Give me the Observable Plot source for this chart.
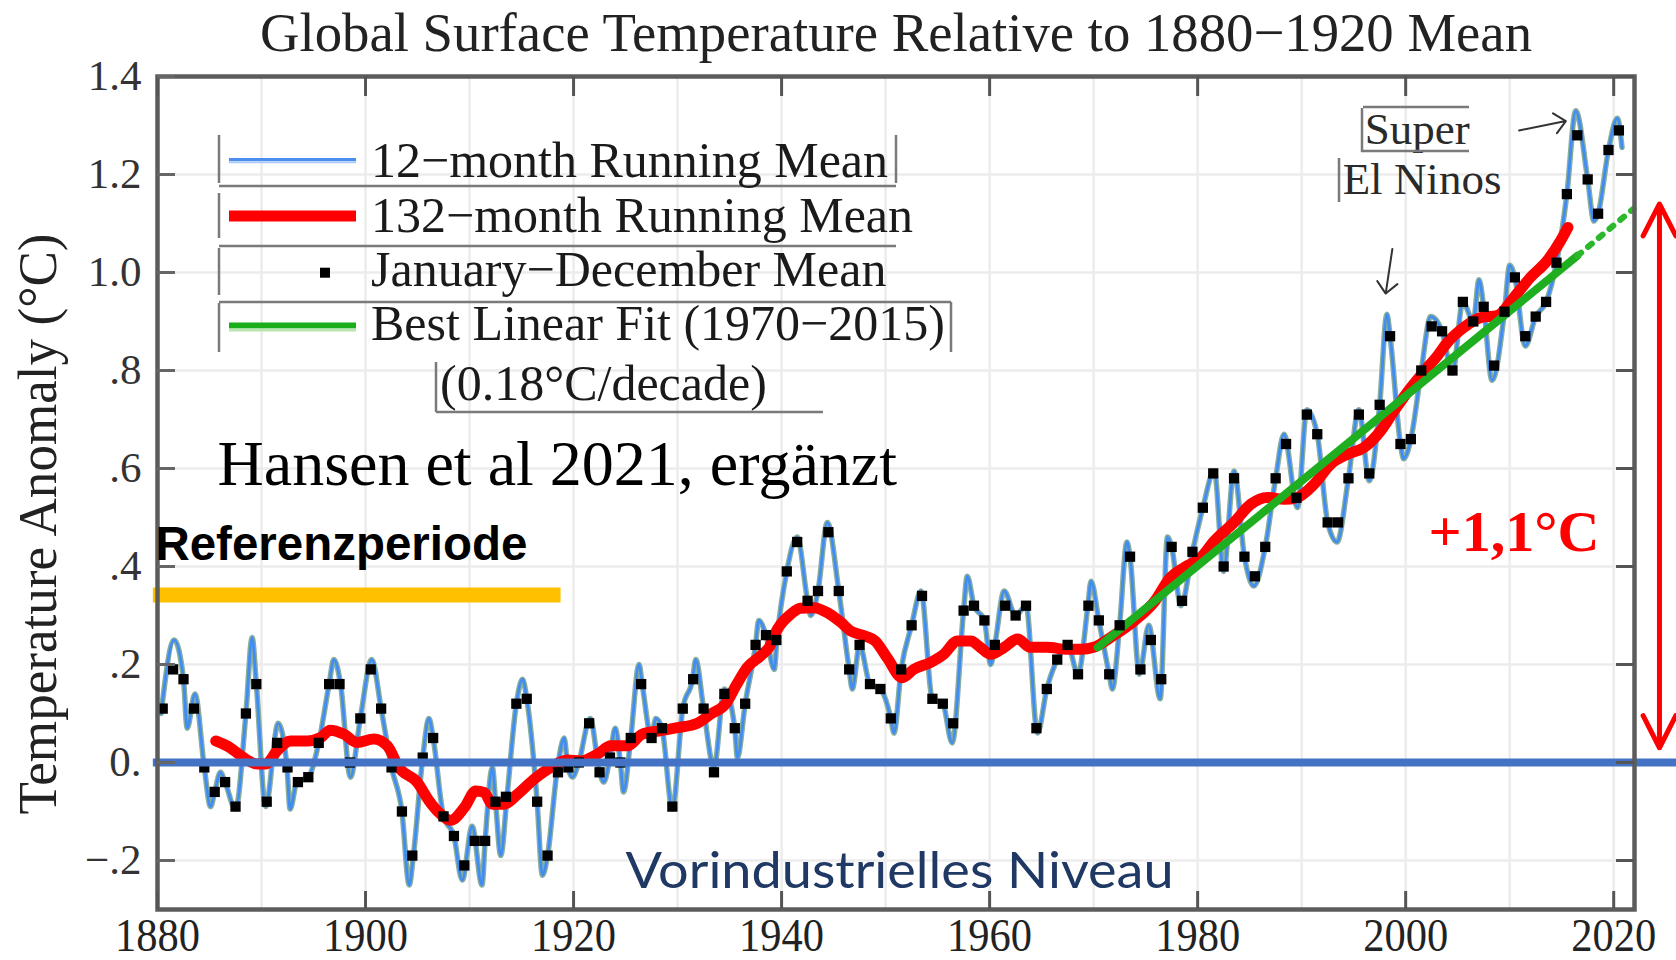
<!DOCTYPE html>
<html>
<head>
<meta charset="utf-8">
<script src="https://cdn.jsdelivr.net/npm/d3@7"></script>
<script src="https://cdn.jsdelivr.net/npm/@observablehq/plot@0.6"></script>
<style>
html, body { margin: 0; padding: 0; background: #fff; }
#chart { width: 1676px; height: 960px; overflow: hidden; }
</style>
</head>
<body>
<div id="chart"></div>
<script>
// ---------------- DATA ----------------
const firstYear = 1880;
// January–December mean, °C relative to 1880–1920 mean (1880 … 2020)
const annualValues = [
  0.11, 0.19, 0.17, 0.11, -0.01, -0.06, -0.04, -0.09, 0.10, 0.16,
  -0.08, 0.04, -0.01, -0.04, -0.03, 0.04, 0.16, 0.16, 0.00, 0.09,
  0.19, 0.11, -0.01, -0.10, -0.19, 0.01, 0.05, -0.11, -0.15, -0.21,
  -0.16, -0.16, -0.08, -0.07, 0.12, 0.13, -0.08, -0.19, -0.02, -0.01,
  0.00, 0.08, -0.02, 0.01, 0.00, 0.05, 0.16, 0.05, 0.07, -0.09,
  0.11, 0.17, 0.11, -0.02, 0.14, 0.07, 0.12, 0.24, 0.26, 0.25,
  0.39, 0.45, 0.33, 0.35, 0.47, 0.35, 0.19, 0.24, 0.16, 0.15,
  0.09, 0.19, 0.28, 0.34, 0.13, 0.12, 0.08, 0.31, 0.32, 0.29,
  0.24, 0.32, 0.30, 0.32, 0.07, 0.15, 0.21, 0.24, 0.18, 0.32,
  0.29, 0.18, 0.28, 0.42, 0.19, 0.25, 0.17, 0.44, 0.33, 0.43,
  0.52, 0.59, 0.40, 0.58, 0.42, 0.38, 0.44, 0.58, 0.65, 0.54,
  0.71, 0.67, 0.49, 0.49, 0.58, 0.71, 0.59, 0.73, 0.87, 0.65,
  0.66, 0.80, 0.89, 0.88, 0.80, 0.94, 0.90, 0.93, 0.81, 0.92,
  0.99, 0.87, 0.91, 0.94, 1.02, 1.16, 1.28, 1.19, 1.12, 1.25,
  1.29
];

// 12-month running mean: vertices (time, value)
const blueT = [1880.35,1881.6,1882.5,1882.85,1883.6,1884.5,1885.1,1885.5,1886.05,1886.5,1887.5,1888.5,1889.1,1889.5,1890.4,1891.6,1892.45,1892.75,1893.4,1894.5,1895.5,1896.5,1896.95,1897.6,1898.55,1899.5,1900.6,1901.5,1902.5,1903.5,1904.2,1904.6,1905.5,1906.1,1906.5,1907.5,1908.5,1909.3,1910.25,1911.2,1911.5,1912.2,1912.5,1913.0,1913.6,1914.5,1915.1,1915.5,1916.5,1917.0,1917.5,1918.4,1919.1,1919.45,1919.9,1920.5,1921.6,1922.5,1922.9,1923.5,1924.0,1924.5,1924.8,1925.5,1926.3,1926.6,1927.5,1927.9,1928.5,1929.5,1930.5,1931.45,1931.75,1932.5,1933.5,1934.5,1935.5,1935.75,1936.5,1937.5,1937.8,1938.5,1939.3,1939.55,1940.5,1941.5,1942.5,1942.8,1943.5,1944.4,1945.5,1946.5,1946.8,1947.5,1948.5,1949.5,1950.5,1950.8,1951.5,1952.5,1953.4,1954.5,1955.5,1956.4,1957.5,1957.85,1958.5,1959.5,1960.1,1960.5,1961.4,1962.5,1963.5,1964.6,1965.5,1966.5,1967.5,1968.5,1969.45,1969.75,1970.5,1971.5,1971.8,1972.5,1973.2,1973.5,1974.4,1975.3,1976.4,1977.1,1977.5,1978.4,1979.5,1980.5,1981.6,1982.5,1983.5,1984.5,1985.4,1986.5,1987.5,1988.3,1989.6,1990.5,1991.5,1992.5,1993.4,1994.5,1995.5,1996.5,1997.5,1998.2,1998.5,1999.5,1999.8,2000.5,2001.5,2002.4,2003.5,2004.5,2005.5,2006.5,2007.05,2007.5,2008.3,2009.5,2010.0,2010.5,2011.5,2012.5,2013.5,2014.5,2015.5,2016.35,2017.5,2018.1,2018.5,2019.5,2020.35,2020.8];
const blueV = [0.10,0.25,0.17,0.07,0.14,-0.01,-0.09,-0.06,-0.02,-0.04,-0.095,0.10,0.255,0.16,-0.09,0.08,-0.01,-0.095,-0.04,-0.03,0.04,0.16,0.21,0.16,-0.03,0.09,0.21,0.11,-0.01,-0.10,-0.25,-0.19,0.01,0.09,0.05,-0.11,-0.15,-0.24,-0.13,-0.25,-0.16,-0.01,-0.08,-0.19,-0.07,0.12,0.17,0.13,-0.08,-0.23,-0.19,-0.02,0.05,-0.01,-0.03,0.00,0.09,-0.02,-0.04,0.01,0.07,0.00,-0.06,0.05,0.20,0.16,0.05,0.09,0.07,-0.095,0.11,0.17,0.21,0.11,-0.01,0.15,0.07,0.01,0.12,0.24,0.29,0.26,0.19,0.25,0.39,0.46,0.33,0.30,0.35,0.49,0.35,0.19,0.15,0.24,0.16,0.15,0.09,0.06,0.19,0.28,0.35,0.13,0.12,0.04,0.31,0.38,0.32,0.29,0.20,0.24,0.35,0.30,0.32,0.06,0.15,0.21,0.24,0.18,0.32,0.37,0.29,0.18,0.15,0.28,0.45,0.42,0.18,0.28,0.13,0.46,0.44,0.32,0.43,0.52,0.595,0.39,0.595,0.42,0.36,0.44,0.58,0.67,0.52,0.72,0.67,0.49,0.45,0.58,0.72,0.575,0.73,0.915,0.87,0.65,0.62,0.66,0.80,0.91,0.88,0.795,0.94,0.90,0.985,0.93,0.78,0.92,1.015,0.99,0.85,0.91,0.94,1.02,1.16,1.33,1.19,1.105,1.12,1.25,1.315,1.255];

// 132-month running mean
const redT = [1885.6,1887.0,1888.0,1889.6,1890.4,1891.5,1892.8,1894.4,1895.7,1896.6,1897.9,1899.2,1900.8,1902.1,1903.2,1905.0,1906.1,1907.2,1908.2,1909.5,1910.6,1911.4,1912.2,1913.3,1914.6,1916.2,1917.8,1919.4,1920.7,1922.3,1923.6,1925.2,1926.6,1928.4,1930.0,1931.9,1933.2,1934.6,1935.7,1936.7,1938.0,1938.8,1939.6,1940.9,1941.8,1943.1,1944.4,1945.7,1946.6,1947.9,1949.0,1950.2,1951.6,1952.7,1954.3,1955.6,1956.9,1958.2,1959.1,1960.1,1961.4,1962.7,1963.9,1965.5,1967.5,1968.8,1970.0,1971.9,1973.9,1975.8,1977.4,1978.7,1980.3,1981.6,1983.5,1985.1,1986.7,1988.3,1989.6,1991.2,1992.8,1994.4,1996.0,1997.6,1998.9,2000.5,2001.8,2003.05,2004.0,2005.6,2007.2,2008.8,2010.4,2012.0,2013.6,2014.9,2015.6];
const redV = [0.044,0.03,0.014,-0.003,-0.003,0.024,0.044,0.044,0.051,0.066,0.058,0.041,0.048,0.034,-0.01,-0.041,-0.078,-0.105,-0.118,-0.092,-0.058,-0.061,-0.085,-0.085,-0.065,-0.034,-0.01,0.005,0.003,0.017,0.034,0.034,0.058,0.065,0.071,0.08,0.099,0.119,0.16,0.194,0.218,0.235,0.272,0.303,0.315,0.316,0.306,0.286,0.269,0.259,0.248,0.212,0.173,0.19,0.204,0.221,0.248,0.248,0.235,0.221,0.235,0.252,0.235,0.235,0.231,0.231,0.235,0.259,0.289,0.327,0.378,0.398,0.418,0.452,0.49,0.527,0.541,0.537,0.541,0.568,0.609,0.629,0.643,0.677,0.718,0.765,0.799,0.83,0.857,0.888,0.908,0.912,0.949,0.99,1.024,1.065,1.092];

// Best linear fit 1970–2015 (0.18 °C/decade) and its dotted extension
const fitT = [1970.4, 2016.5];
const fitV = [0.235, 1.034];
const fitExtT = [2016.5, 2021.9];
const fitExtV = [1.034, 1.13];

// Additions: reference period bar, zero level, warming span
const refBarX = [1879.6, 1918.8];
const refBarY = 0.342;
const zeroLineX = [1879.6, 2026.1];
const warmingSpanX = 2024.4;
const warmingSpanY = [0.03, 1.14];

// Axes
const xDomain = [1880, 2022];
const yDomain = [-0.3, 1.4];
const xLabelTicks = [1880, 1900, 1920, 1940, 1960, 1980, 2000, 2020];
const xGridTicks = [1890, 1900, 1910, 1920, 1930, 1940, 1950, 1960, 1970, 1980, 1990, 2000, 2010, 2020];
const yTicks = [-0.2, 0, 0.2, 0.4, 0.6, 0.8, 1.0, 1.2, 1.4];
const yTickLabels = ["\u2212.2", "0.", ".2", ".4", ".6", ".8", "1.0", "1.2", "1.4"];

// Texts
const titleText = "Global Surface Temperature Relative to 1880\u22121920 Mean";
const yLabelText = "Temperature Anomaly (\u00B0C)";
const legendLabels = ["12\u2212month Running Mean", "132\u2212month Running Mean", "January\u2212December Mean", "Best Linear Fit (1970\u22122015)"];
const legendNote = "(0.18\u00B0C/decade)";

// Annotations (anchored in data coordinates)
const annoHansen = {text: "Hansen et al 2021, ergänzt", x: 1885.77, y: 0.567};
const annoRef = {text: "Referenzperiode", x: 1879.8, y: 0.413};
const annoNiveau = {text: "Vorindustrielles Niveau", x: 1925.0, y: -0.256};
const annoWarming = {text: "+1,1\u00B0C", x: 2002.2, y: 0.432};
const annoSuper = {text: "Super", x: 1996.06, y: 1.263};
const annoElNinos = {text: "El Ninos", x: 1993.94, y: 1.16};
const elNinoArrows = [
  {x1: 1998.72, y1: 1.048, x2: 1998.08, y2: 0.957},
  {x1: 2010.9, y1: 1.29, x2: 2015.4, y2: 1.309}
];

// ---------------- LAYOUT ----------------
const W = 1676, H = 960;
const mL = 157, mR = 42, mT = 76, mB = 51;
const frameW = W - mL - mR, frameH = H - mT - mB;
const tickLen = 18;
const serif = "'Liberation Serif', 'Times New Roman', Times, serif";
const sans = "'Liberation Sans', Arial, sans-serif";

const annual = annualValues.map((v, i) => ({t: firstYear + i + 0.5, v}));
const blue = blueT.map((t, i) => ({t, v: blueV[i]}));
const red = redT.map((t, i) => ({t, v: redV[i]}));
const fit = fitT.map((t, i) => ({t, v: fitV[i]}));
const fitExt = fitExtT.map((t, i) => ({t, v: fitExtV[i]}));
const mid = (warmingSpanY[0] + warmingSpanY[1]) / 2;
const spanArrows = [
  {x1: warmingSpanX, y1: mid, x2: warmingSpanX, y2: warmingSpanY[1]},
  {x1: warmingSpanX, y1: mid, x2: warmingSpanX, y2: warmingSpanY[0]}
];
// Plot's headLength is relative to the stroke width (÷1.5)
const headPx = (px, sw) => px * 1.5 / sw;

const plot = Plot.plot({
  width: W, height: H,
  marginLeft: mL, marginRight: mR, marginTop: mT, marginBottom: mB,
  style: {fontFamily: serif, background: "#fff"},
  x: {domain: xDomain},
  y: {domain: yDomain},
  marks: [
    Plot.gridX(xGridTicks, {stroke: "#ececec", strokeOpacity: 1, strokeWidth: 2.5}),
    Plot.gridY(yTicks, {stroke: "#ececec", strokeOpacity: 1, strokeWidth: 2.5}),
    // reference period bar
    Plot.ruleY([refBarY], {x1: refBarX[0], x2: refBarX[1], stroke: "#FFC000", strokeWidth: 15}),
    // 12-month running mean
    Plot.line(blue, {x: "t", y: "v", stroke: "#8aae9c", strokeWidth: 5.5, curve: "monotone-x", strokeLinejoin: "round"}),
    Plot.line(blue, {x: "t", y: "v", stroke: "#3f8cf3", strokeWidth: 2.8, curve: "monotone-x", strokeLinejoin: "round"}),
    // 132-month running mean
    Plot.line(red, {x: "t", y: "v", stroke: "#ff0000", strokeWidth: 11, curve: "monotone-x", strokeLinejoin: "round"}),
    // linear fit
    Plot.line(fit, {x: "t", y: "v", stroke: "#1fae1f", strokeWidth: 8}),
    Plot.line(fitExt, {x: "t", y: "v", stroke: "#2cb82c", strokeWidth: 6, strokeDasharray: "5 9"}),
    // annual means
    Plot.dot(annual, {x: "t", y: "v", symbol: "square", r: 5.8, fill: "#000", stroke: null}),
    // pre-industrial level
    Plot.ruleY([0], {x1: zeroLineX[0], x2: zeroLineX[1], stroke: "#4472C4", strokeWidth: 8}),
    // frame and inward ticks
    Plot.frame({stroke: "#5c5c5c", strokeWidth: 4.5}),
    Plot.ruleX(xLabelTicks, {insetTop: frameH - tickLen, stroke: "#555", strokeWidth: 3}),
    Plot.ruleX(xLabelTicks, {insetBottom: frameH - tickLen - 2, stroke: "#555", strokeWidth: 3}),
    Plot.ruleY(yTicks, {insetRight: frameW - tickLen, stroke: "#666", strokeWidth: 3}),
    Plot.ruleY(yTicks, {insetLeft: frameW - tickLen, stroke: "#555", strokeWidth: 3}),
    // axes labels
    Plot.axisX(xLabelTicks, {tickSize: 0, tickPadding: 9, fontSize: 46, fill: "#222", tickFormat: d => String(d), label: null}),
    Plot.axisY(yTicks, {tickSize: 0, tickPadding: 16, fontSize: 43, fill: "#333", tickFormat: d => yTickLabels[yTicks.indexOf(d)], label: null}),
    Plot.text([titleText], {text: d => d, frameAnchor: "top", dy: 50 - mT, lineAnchor: "bottom", fontSize: 55, fill: "#222"}),
    Plot.text([yLabelText], {text: d => d, frameAnchor: "left", dx: 55 - mL, dy: 523.5 - (mT + frameH / 2), rotate: -90, textAnchor: "middle", lineAnchor: "bottom", fontSize: 55, fill: "#222"}),
    // annotations
    Plot.text([annoHansen], {x: "x", y: "y", text: "text", textAnchor: "start", lineAnchor: "bottom", fontSize: 64, fill: "#000"}),
    Plot.text([annoRef], {x: "x", y: "y", text: "text", textAnchor: "start", lineAnchor: "bottom", fontSize: 47.5, fontWeight: "bold", fontFamily: sans, fill: "#000"}),
    Plot.text([annoNiveau], {x: "x", y: "y", text: "text", textAnchor: "start", lineAnchor: "bottom", fontSize: 51, fontFamily: "Lato, 'Open Sans', sans-serif", fill: "#1f3864"}),
    Plot.text([annoWarming], {x: "x", y: "y", text: "text", textAnchor: "start", lineAnchor: "bottom", fontSize: 57, fontWeight: "bold", fill: "#ff0000"}),
    Plot.text([annoSuper, annoElNinos], {x: "x", y: "y", text: "text", textAnchor: "start", lineAnchor: "bottom", fontSize: 45, fill: "#2a2a2a"}),
    Plot.arrow(elNinoArrows, {x1: "x1", y1: "y1", x2: "x2", y2: "y2", stroke: "#333", strokeWidth: 2, headLength: headPx(15, 2), headAngle: 85}),
    Plot.arrow(spanArrows, {x1: "x1", y1: "y1", x2: "x2", y2: "y2", stroke: "#ff0000", strokeWidth: 5, headLength: headPx(36, 5), headAngle: 54})
  ]
});

// text widths matched to the picture
const textLengths = new Map([
  [titleText, 1272], [yLabelText, 581], [annoNiveau.text, 548], [annoRef.text, 372], [annoWarming.text, 171]
]);
plot.querySelectorAll("text").forEach(t => {
  const L = textLengths.get(t.textContent);
  if (L) { t.setAttribute("textLength", L); t.setAttribute("lengthAdjust", "spacingAndGlyphs"); }
});
plot.querySelectorAll('g[aria-label="x-axis tick label"] text').forEach(t => {
  t.setAttribute("textLength", 85); t.setAttribute("lengthAdjust", "spacingAndGlyphs");
});

// ---------------- LEGEND (pixel layout overlay) ----------------
const svg = d3.select(plot);
const lg = svg.append("g").attr("class", "legend").attr("text-anchor", "start");
const boxLines = [
  [219, 135, 219, 183], [219, 186, 896, 186], [896, 135, 896, 183],
  [219, 193, 219, 238], [219, 246, 896, 246],
  [219, 248, 219, 295],
  [219, 302, 951, 302], [219, 303, 219, 352], [951, 302, 951, 352],
  [436, 362, 436, 412], [436, 412, 823, 412],
  // "Super / El Ninos" box fragments
  [1363, 107, 1469, 107], [1361, 151, 1469, 151], [1362, 108, 1362, 152], [1339, 158, 1339, 202]
];
lg.selectAll("line.box").data(boxLines).join("line")
  .attr("x1", d => d[0]).attr("y1", d => d[1]).attr("x2", d => d[2]).attr("y2", d => d[3])
  .attr("stroke", "#7a7a7a").attr("stroke-width", 2.5);

const rowBaselines = [177, 232, 285.5, 340];
const rowSampleY = [160.5, 216, 272.7, 326.5];
const sampleX = [229, 356];
// blue sample
lg.append("line").attr("x1", sampleX[0]).attr("x2", sampleX[1]).attr("y1", rowSampleY[0] - 1).attr("y2", rowSampleY[0] - 1).attr("stroke", "#4a8ff0").attr("stroke-width", 3);
lg.append("line").attr("x1", sampleX[0]).attr("x2", sampleX[1]).attr("y1", rowSampleY[0] + 1.8).attr("y2", rowSampleY[0] + 1.8).attr("stroke", "#a9c9f8").attr("stroke-width", 2);
// red sample
lg.append("line").attr("x1", sampleX[0]).attr("x2", sampleX[1]).attr("y1", rowSampleY[1]).attr("y2", rowSampleY[1]).attr("stroke", "#ff0000").attr("stroke-width", 11);
// square sample
lg.append("rect").attr("x", 325 - 5).attr("y", rowSampleY[2] - 5).attr("width", 10).attr("height", 10).attr("fill", "#000");
// green sample
lg.append("line").attr("x1", sampleX[0]).attr("x2", sampleX[1]).attr("y1", rowSampleY[3] - 1).attr("y2", rowSampleY[3] - 1).attr("stroke", "#1aad1a").attr("stroke-width", 6);
lg.append("line").attr("x1", sampleX[0]).attr("x2", sampleX[1]).attr("y1", rowSampleY[3] + 3.5).attr("y2", rowSampleY[3] + 3.5).attr("stroke", "#b8e6b0").attr("stroke-width", 3);

lg.selectAll("text.lab").data(legendLabels).join("text")
  .attr("x", 371).attr("y", (d, i) => rowBaselines[i])
  .attr("text-anchor", "start")
  .attr("font-family", serif).attr("font-size", 50).attr("fill", "#1a1a1a")
  .text(d => d);
lg.append("text").attr("x", 440).attr("y", 400)
  .attr("text-anchor", "start")
  .attr("font-family", serif).attr("font-size", 50).attr("fill", "#1a1a1a")
  .text(legendNote);

document.getElementById("chart").appendChild(plot);
</script>
</body>
</html>
